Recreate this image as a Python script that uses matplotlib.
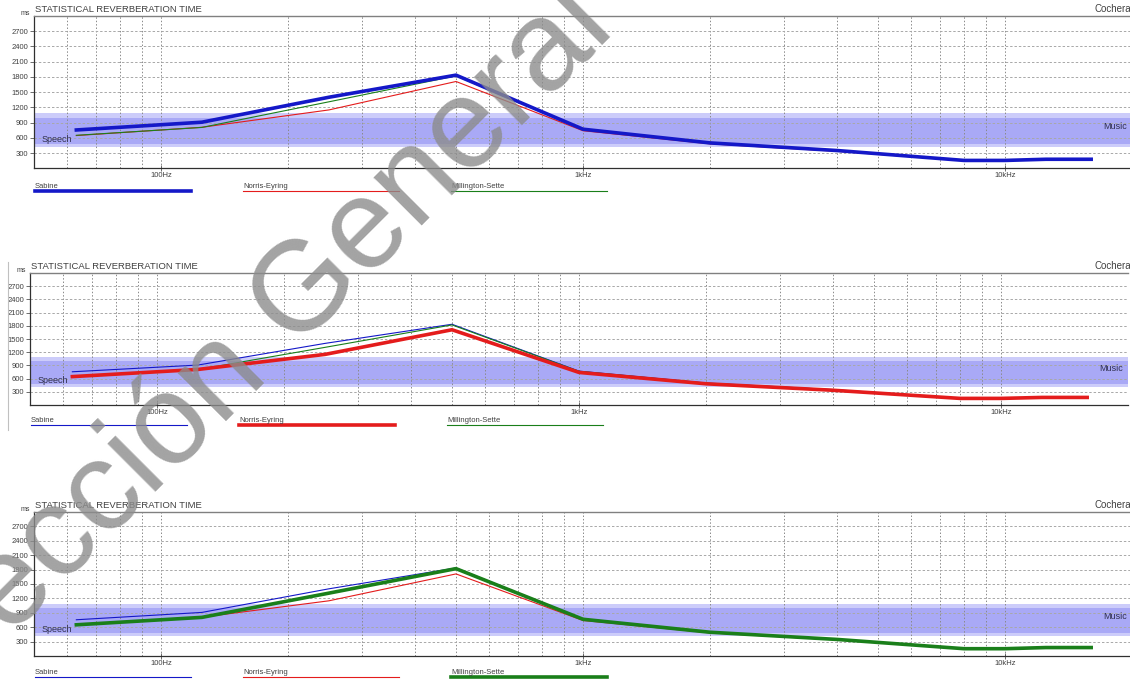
import numpy as np
import matplotlib
matplotlib.use("Agg")
import matplotlib.pyplot as plt
from matplotlib.lines import Line2D
from matplotlib.ticker import FixedLocator, NullFormatter

plt.rcParams['font.family'] = ['Liberation Sans', 'DejaVu Sans']

# octave band centres (Hz) and reverberation times (ms)
freqs = [63, 125, 250, 500, 1000, 2000, 4000, 8000, 10000, 12500, 16000]
sabine = [755, 908, 1400, 1835, 770, 500, 350, 155, 155, 178, 178]
norris_eyring = [645, 808, 1150, 1710, 740, 482, 335, 150, 150, 172, 172]
millington_sette = [650, 805, 1310, 1820, 765, 495, 345, 152, 152, 176, 176]

series_names = ['Sabine', 'Norris-Eyring', 'Millington-Sette']
series_colors = ['#1418c8', '#e41c1c', '#1a7f1a']
series_data = [sabine, norris_eyring, millington_sette]

y_ticks = [300, 600, 900, 1200, 1500, 1800, 2100, 2400, 2700]
x_major = [100, 1000, 10000]
x_major_labels = ['100Hz', '1kHz', '10kHz']
x_minor = [60, 70, 80, 90, 200, 300, 400, 500, 600, 700, 800, 900,
           2000, 3000, 4000, 5000, 6000, 7000, 8000, 9000]

speech_band = (420, 990)
music_band = (480, 1080)

W, H = 1130, 679
fig = plt.figure(figsize=(W / 100, H / 100), dpi=100)

# panel layout in pixels: left, top, bottom, legend text y, legend line y
panels = [
    (34, 16, 168.3, 186, 191),
    (30, 273, 405, 420, 425),
    (34, 512, 656, 672, 677),
]
decade_px = 422
width_px = decade_px * np.log10(20000 / 50)

txt_col = '#404040'

for highlight, (lp, tp, bp, ly, lly) in enumerate(panels):
    ax = fig.add_axes([lp / W, 1 - bp / H, width_px / W, (bp - tp) / H])
    ax.set_xscale('log')
    ax.set_xlim(50, 20000)
    ax.set_ylim(0, 3000)

    # speech / music bands
    ax.axhspan(*speech_band, color='#6464f0', alpha=0.33, lw=0, zorder=0)
    ax.axhspan(*music_band, color='#6464f0', alpha=0.33, lw=0, zorder=0)

    ax.xaxis.set_major_locator(FixedLocator(x_major))
    ax.xaxis.set_minor_locator(FixedLocator(x_minor))
    ax.xaxis.set_minor_formatter(NullFormatter())
    ax.set_xticklabels(x_major_labels)
    ax.set_yticks(y_ticks)
    ax.set_yticklabels([str(v) for v in y_ticks])
    ax.tick_params(axis='x', which='major', direction='inout', length=4,
                   width=0.6, color='#555555', labelsize=5.5,
                   labelcolor=txt_col, pad=1)
    ax.tick_params(axis='x', which='minor', length=0)
    ax.tick_params(axis='y', direction='out', length=3, width=0.6,
                   color='#555555', labelsize=5.5, labelcolor=txt_col, pad=1)

    ax.grid(True, axis='x', which='both', color='#8a8a8a', lw=0.7,
            ls=(0, (1.5, 2)), zorder=1)
    ax.grid(True, axis='y', which='major', color='#a8a8a8', lw=0.7,
            ls=(0, (2.5, 2)), zorder=1)

    for s in ['left', 'bottom']:
        ax.spines[s].set_color('#303030')
        ax.spines[s].set_linewidth(0.9)
    ax.spines['top'].set_color('#808080')
    ax.spines['top'].set_linewidth(1.0)
    ax.spines['right'].set_visible(False)

    # curves: highlighted one thick, others thin
    order = [i for i in range(3) if i != highlight] + [highlight]
    for i in order:
        thick = i == highlight
        ax.plot(freqs, series_data[i], color=series_colors[i],
                lw=2.6 if thick else 0.8, zorder=4 if thick else 3,
                solid_joinstyle='round')

    ax.text(52, 560, 'Speech', fontsize=6.5, color='#303050',
            va='center', ha='left', zorder=5)
    ax.text(19500, 830, 'Music', fontsize=6.5, color='#303050',
            va='center', ha='right', zorder=5)

    # header texts
    fig.text((lp + 1) / W, 1 - (tp - 2) / H, 'STATISTICAL REVERBERATION TIME',
             fontsize=6.8, color=txt_col, ha='left', va='bottom')
    fig.text((lp - 4) / W, 1 - (tp + 1) / H, 'ms', fontsize=5,
             color=txt_col, ha='right', va='bottom')
    fig.text(1131 / W, 1 - (tp - 2) / H, 'Cochera', fontsize=7,
             color=txt_col, ha='right', va='bottom')

    # legend row under the panel
    for i, name in enumerate(series_names):
        x0 = lp + 1 + i * 208
        fig.text(x0 / W, 1 - ly / H, name, fontsize=5.5, color=txt_col,
                 ha='left', va='center')
        thick = i == highlight
        fig.add_artist(Line2D([x0 / W, (x0 + 156) / W],
                              [1 - lly / H, 1 - lly / H],
                              color=series_colors[i],
                              lw=2.6 if thick else 0.8))

# faint frame line at left of the middle panel
fig.add_artist(Line2D([8 / W, 8 / W], [1 - 262 / H, 1 - 430 / H],
                      color='#c0c0c0', lw=0.8))

# watermark
fig.text(-106 / W, 1 - 753 / H, 'Dirección General de', fontsize=92,
         color='#8c8c8c', alpha=0.8, rotation=45, rotation_mode='anchor',
         ha='left', va='baseline', zorder=10)

fig.savefig('out.png', dpi=100)
